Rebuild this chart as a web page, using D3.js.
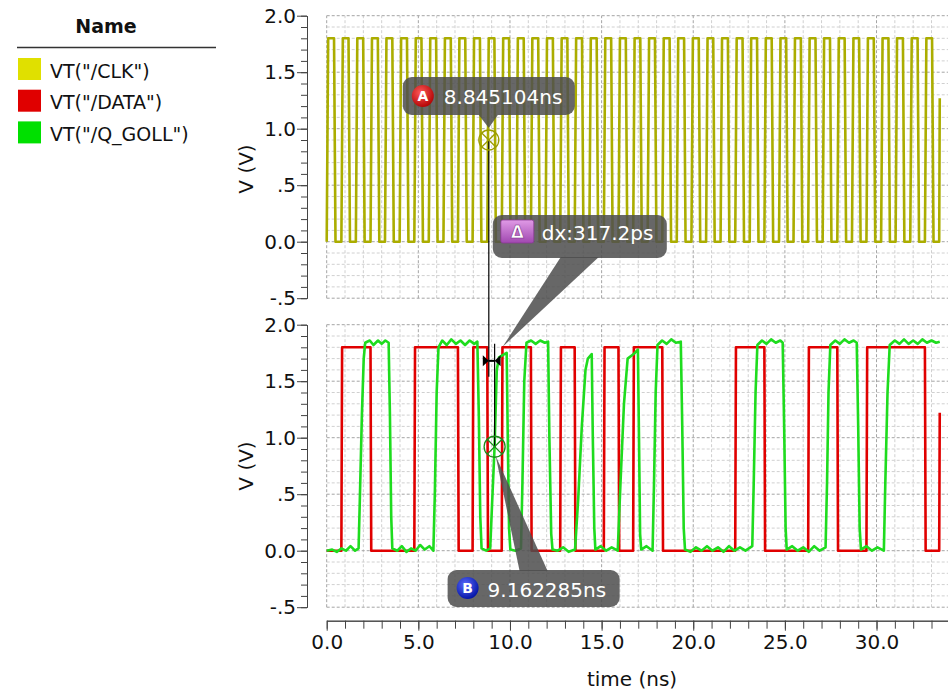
<!DOCTYPE html>
<html>
<head>
<meta charset="utf-8">
<script src="https://cdn.jsdelivr.net/npm/d3@7"></script>
<style>
  html, body { margin: 0; padding: 0; background: #fff; }
  svg { display: block; font-family: "DejaVu Sans", sans-serif; }
  .grid-minor { stroke: #d0d0d0; stroke-dasharray: 3,2; }
  .grid-major { stroke: #a4a4a4; stroke-dasharray: 3,2; }
  .axis path, .axis line { stroke: #444; }
  .axis text { font-size: 20px; fill: #111; font-family: "DejaVu Sans", sans-serif; }
  .wave { fill: none; stroke-width: 2.6; stroke-linejoin: round; }
  .callout { fill: rgba(78,78,78,0.86); }
  .callout-text { fill: #fff; font-size: 20px; }
</style>
</head>
<body>
<svg id="chart" width="948" height="698"></svg>
<script>
/* ---------- data ---------- */
const legendNames = ['VT("/CLK")', 'VT("/DATA")', 'VT("/Q_GOLL")'];
const legendColors = ["#e0e000", "#e00000", "#00e000"];

const timeMajor = [0, 5, 10, 15, 20, 25, 30];
const timeLabels = ["0.0", "5.0", "10.0", "15.0", "20.0", "25.0", "30.0"];
const voltMajor = [-0.5, 0, 0.5, 1.0, 1.5, 2.0];
const voltLabels = ["-.5", "0.0", ".5", "1.0", "1.5", "2.0"];

// CLK: alternating rise / fall times (ns), signal starts low
const clkEdges = [
  0.00, 0.40, 0.80, 1.19, 1.59, 1.99, 2.39, 2.79, 3.18, 3.58,
  3.98, 4.38, 4.78, 5.17, 5.57, 5.97, 6.37, 6.77, 7.16, 7.56,
  7.96, 8.36, 8.76, 9.15, 9.55, 9.95, 10.35, 10.75, 11.14, 11.54,
  11.94, 12.34, 12.74, 13.13, 13.53, 13.93, 14.33, 14.73, 15.12, 15.52,
  15.92, 16.32, 16.72, 17.11, 17.51, 17.91, 18.31, 18.71, 19.10, 19.50,
  19.90, 20.30, 20.70, 21.09, 21.49, 21.89, 22.29, 22.69, 23.08, 23.48,
  23.88, 24.28, 24.68, 25.07, 25.47, 25.87, 26.27, 26.67, 27.06, 27.46,
  27.86, 28.26, 28.66, 29.05, 29.45, 29.85, 30.25, 30.65, 31.04, 31.44,
  31.84, 32.24, 32.64, 33.03
];
const clkTail = [[33.42, 0.0], [33.45, 1.27]];

// DATA: alternating rise / fall times (ns), starts low
const dataEdges = [
  0.80, 2.39, 4.78, 7.16, 7.96, 8.76, 9.55, 11.14, 12.74, 13.53,
  15.12, 15.92, 16.72, 18.31, 22.29, 23.88, 26.27, 27.86, 29.45, 32.64
];
const dataTail = [[33.42, 0.0], [33.45, 1.22]];

// Q_GOLL: sampled points [t (ns), V]
const qPoints = [
  [0.00, 0.00], [0.30, 0.01], [0.55, -0.01], [0.80, 0.02], [1.05, 0.00], [1.30, 0.04], [1.55, 0.00], [1.74, 0.02],
  [1.80, 0.40], [1.92, 1.20], [2.02, 1.70], [2.10, 1.84], [2.35, 1.86], [2.55, 1.82], [2.80, 1.86], [3.00, 1.83], [3.20, 1.86], [3.38, 1.84],
  [3.45, 1.20], [3.52, 0.30], [3.58, 0.02], [3.85, 0.00], [4.10, 0.04], [4.35, -0.01], [4.60, 0.02], [4.85, 0.00], [5.10, 0.05], [5.35, 0.01], [5.60, 0.04], [5.82, 0.00],
  [5.90, 0.50], [6.00, 1.40], [6.10, 1.80], [6.30, 1.86], [6.55, 1.82], [6.80, 1.87], [7.05, 1.83], [7.30, 1.86], [7.55, 1.82], [7.80, 1.86], [8.05, 1.83], [8.22, 1.85],
  [8.30, 1.20], [8.38, 0.30], [8.45, 0.02], [8.70, 0.00], [8.92, 0.02],
  [9.02, 0.40], [9.16, 0.92], [9.28, 1.60], [9.40, 1.71], [9.60, 1.73], [9.82, 1.75],
  [9.88, 1.00], [9.95, 0.20], [10.02, 0.01], [10.30, 0.00], [10.60, 0.02],
  [10.68, 0.60], [10.78, 1.50], [10.90, 1.84], [11.15, 1.86], [11.40, 1.83], [11.65, 1.86], [11.90, 1.84], [12.08, 1.85],
  [12.15, 1.00], [12.25, 0.15], [12.32, 0.01], [12.60, 0.00], [12.90, 0.03], [13.20, -0.01], [13.55, 0.01],
  [13.72, 0.45], [13.92, 1.10], [14.12, 1.60], [14.25, 1.70], [14.46, 1.74],
  [14.52, 1.00], [14.60, 0.20], [14.66, 0.01], [14.95, 0.04], [15.25, 0.00], [15.55, 0.03], [15.88, 0.00],
  [16.03, 0.60], [16.22, 1.30], [16.42, 1.70], [16.75, 1.74], [16.98, 1.78],
  [17.04, 1.00], [17.10, 0.15], [17.16, 0.01], [17.45, 0.04], [17.78, 0.00],
  [17.86, 0.60], [17.95, 1.40], [18.05, 1.82], [18.30, 1.86], [18.55, 1.83], [18.80, 1.87], [19.05, 1.84], [19.32, 1.85],
  [19.40, 1.10], [19.48, 0.20], [19.55, 0.01], [19.85, -0.01], [20.15, 0.03], [20.45, 0.00], [20.75, 0.04], [21.05, 0.00],
  [21.35, 0.03], [21.65, -0.01], [21.95, 0.04], [22.25, 0.00], [22.55, 0.03], [22.85, 0.00], [23.22, 0.04],
  [23.30, 0.60], [23.40, 1.40], [23.50, 1.82], [23.75, 1.86], [24.00, 1.83], [24.25, 1.87], [24.50, 1.84], [24.75, 1.86], [24.88, 1.84],
  [24.96, 1.10], [25.04, 0.20], [25.10, 0.01], [25.40, 0.04], [25.70, 0.00], [26.00, 0.03], [26.30, -0.01], [26.60, 0.04], [26.90, 0.00], [27.22, 0.03],
  [27.30, 0.60], [27.38, 1.40], [27.48, 1.82], [27.75, 1.86], [28.00, 1.83], [28.25, 1.87], [28.50, 1.84], [28.75, 1.86], [28.92, 1.84],
  [29.00, 1.10], [29.08, 0.20], [29.15, 0.01], [29.45, 0.04], [29.75, 0.00], [30.05, 0.03], [30.40, 0.00],
  [30.48, 0.60], [30.60, 1.40], [30.72, 1.82], [31.00, 1.86], [31.25, 1.83], [31.50, 1.87], [31.75, 1.83], [32.00, 1.86],
  [32.25, 1.83], [32.50, 1.87], [32.75, 1.84], [33.00, 1.86], [33.25, 1.84], [33.45, 1.85]
];

const markerA = {t: 8.845104, v: 0.9, label: "8.845104ns"};
const markerB = {t: 9.162285, v: 0.92, label: "9.162285ns"};
const deltaLabel = "dx:317.2ps";
const deltaV = 1.68;

/* ---------- setup ---------- */
const svg = d3.select("#chart");
const HIGH = 1.8;

const x = d3.scaleLinear().domain([0, 33.9]).range([326.7, 948]);
const yTop = d3.scaleLinear().domain([-0.5, 2.0]).range([298.2, 15.7]);
const yBot = d3.scaleLinear().domain([-0.5, 2.0]).range([607.2, 324.7]);
const axisX = 307;

// edges -> step points with a short transition
function stepPoints(edges, tr, tail) {
  const pts = [[0, 0]];
  let level = 0;
  edges.forEach(t => {
    pts.push([t, level]);
    level = level ? 0 : HIGH;
    pts.push([t + tr, level]);
  });
  return pts.concat(tail);
}

/* ---------- legend ---------- */
const legend = svg.append("g");
legend.append("text").attr("x", 106).attr("y", 33).attr("text-anchor", "middle")
  .attr("font-size", 19).attr("font-weight", "bold").attr("fill", "#111").text("Name");
legend.append("line").attr("x1", 17).attr("x2", 216).attr("y1", 47.5).attr("y2", 47.5)
  .attr("stroke", "#333").attr("stroke-width", 1.5);
legendNames.forEach((n, i) => {
  const yy = 58 + i * 31.7;
  legend.append("rect").attr("x", 18).attr("y", yy).attr("width", 23).attr("height", 22)
    .attr("fill", legendColors[i]);
  legend.append("text").attr("x", 50).attr("y", yy + 19.5).attr("font-size", 19)
    .attr("fill", "#111").text(n);
});

/* ---------- panels ---------- */
function drawPanel(y, labelY) {
  const g = svg.append("g");
  const [y0, y1] = y.range();
  // grid
  d3.range(0, 34, 1).forEach(t => {
    g.append("line").attr("class", t % 5 === 0 ? "grid-major" : "grid-minor")
      .attr("x1", x(t)).attr("x2", x(t)).attr("y1", y0).attr("y2", y1);
  });
  d3.range(-5, 21, 1).forEach(k => {
    g.append("line").attr("class", k % 5 === 0 ? "grid-major" : "grid-minor")
      .attr("x1", x(0)).attr("x2", 948).attr("y1", y(k / 10)).attr("y2", y(k / 10));
  });
  // y axis
  g.append("g").attr("class", "axis").attr("transform", `translate(${axisX},0)`)
    .call(d3.axisLeft(y).tickValues(d3.range(-5, 21, 1).map(k => k / 10))
      .tickSize(6).tickSizeOuter(0).tickFormat(""));
  g.append("g").attr("class", "axis").attr("transform", `translate(${axisX},0)`)
    .call(d3.axisLeft(y).tickValues(voltMajor).tickSize(10).tickSizeOuter(0)
      .tickPadding(1).tickFormat((d, i) => voltLabels[i]));
  g.append("text").attr("transform", `translate(253,${labelY}) rotate(-90)`)
    .attr("text-anchor", "middle").attr("font-size", 20).attr("fill", "#111").text("V (V)");
  return g;
}
drawPanel(yTop, 169);
drawPanel(yBot, 466);

// x axis
const xAxisY = 620.7;
svg.append("g").attr("class", "axis").attr("transform", `translate(0,${xAxisY})`)
  .call(d3.axisBottom(x).tickValues(d3.range(0, 34, 1)).tickSize(8).tickSizeOuter(0).tickFormat(""));
svg.append("g").attr("class", "axis").attr("transform", `translate(0,${xAxisY})`)
  .call(d3.axisBottom(x).tickValues(timeMajor).tickSize(10).tickSizeOuter(0)
    .tickPadding(4).tickFormat((d, i) => timeLabels[i]));
svg.append("text").attr("x", 632).attr("y", 686).attr("text-anchor", "middle")
  .attr("font-size", 20).attr("fill", "#111").text("time (ns)");

/* ---------- waveforms ---------- */
const lineTop = d3.line().x(d => x(d[0])).y(d => yTop(d[1]));
const lineBot = d3.line().x(d => x(d[0])).y(d => yBot(d[1]));

svg.append("path").attr("class", "wave").attr("stroke", "#abad00").attr("stroke-width", 3)
  .attr("d", lineTop(stepPoints(clkEdges, 0.08, clkTail)));
svg.append("path").attr("class", "wave").attr("stroke", "#e00000")
  .attr("d", lineBot(stepPoints(dataEdges, 0.04, dataTail)));
svg.append("path").attr("class", "wave").attr("stroke", "#1edc1e").attr("stroke-width", 2.8)
  .attr("d", lineBot(qPoints));

/* ---------- markers ---------- */
const ax = x(markerA.t), ay = yTop(markerA.v);
const bx = x(markerB.t), by = yBot(markerB.v);
const dy = yBot(deltaV);

const mk = svg.append("g");
mk.append("line").attr("x1", ax).attr("x2", ax).attr("y1", ay).attr("y2", dy + 16)
  .attr("stroke", "#000").attr("stroke-width", 1.2);
mk.append("line").attr("x1", bx).attr("x2", bx).attr("y1", dy - 17).attr("y2", by)
  .attr("stroke", "#000").attr("stroke-width", 1.2);
// delta arrows
mk.append("path").attr("fill", "#000")
  .attr("d", `M${ax - 6},${dy - 5.5}L${ax},${dy}L${ax - 6},${dy + 5.5}Z M${bx + 6},${dy - 5.5}L${bx},${dy}L${bx + 6},${dy + 5.5}Z`);
mk.append("line").attr("x1", ax).attr("x2", bx).attr("y1", dy).attr("y2", dy)
  .attr("stroke", "#000").attr("stroke-width", 2);

function crossCircle(cx, cy, r, color) {
  const g = svg.append("g").attr("stroke", color).attr("stroke-width", 1.3).attr("fill", "none");
  g.append("circle").attr("cx", cx).attr("cy", cy).attr("r", r);
  const d = r * Math.SQRT1_2;
  g.append("path").attr("d", `M${cx - d},${cy - d}L${cx + d},${cy + d}M${cx - d},${cy + d}L${cx + d},${cy - d}`);
}
crossCircle(ax, ay, 10, "#9c9c00");
crossCircle(bx, by, 10.5, "#1a8c1a");

/* ---------- callouts ---------- */
const defs = svg.append("defs");
function radial(id, c0, c1) {
  const g = defs.append("radialGradient").attr("id", id).attr("cx", "40%").attr("cy", "35%").attr("r", "70%");
  g.append("stop").attr("offset", "0%").attr("stop-color", c0);
  g.append("stop").attr("offset", "100%").attr("stop-color", c1);
}
radial("gradA", "#ff5a5a", "#b00000");
radial("gradB", "#5a6cff", "#0010a0");
const lg = defs.append("linearGradient").attr("id", "gradD").attr("x1", 0).attr("y1", 0).attr("x2", 0).attr("y2", 1);
lg.append("stop").attr("offset", "0%").attr("stop-color", "#e09ae6");
lg.append("stop").attr("offset", "100%").attr("stop-color", "#a048b0");

const co = svg.append("g");
// A
co.append("rect").attr("class", "callout").attr("x", ax - 86).attr("y", 77).attr("width", 172).attr("height", 38).attr("rx", 9);
co.append("path").attr("class", "callout").attr("d", `M${ax - 10},115L${ax + 9},115L${ax},${ay - 12}Z`);
co.append("circle").attr("cx", ax - 66).attr("cy", 96).attr("r", 11).attr("fill", "url(#gradA)");
co.append("text").attr("x", ax - 66).attr("y", 101).attr("text-anchor", "middle").attr("font-size", 14)
  .attr("font-weight", "bold").attr("fill", "#fff").text("A");
co.append("text").attr("class", "callout-text").attr("x", ax - 45).attr("y", 104).text(markerA.label);

// delta
co.append("rect").attr("class", "callout").attr("x", ax + 4).attr("y", 215).attr("width", 174).attr("height", 43).attr("rx", 9);
co.append("path").attr("class", "callout").attr("d", `M${ax + 72},257L${ax + 110},257L${bx + 8},${dy - 14}Z`);
co.append("rect").attr("x", ax + 12).attr("y", 220).attr("width", 33).attr("height", 23).attr("rx", 2)
  .attr("fill", "url(#gradD)").attr("stroke", "#8a3a96").attr("stroke-width", 0.8);
co.append("text").attr("x", ax + 28.5).attr("y", 238).attr("text-anchor", "middle").attr("font-size", 17)
  .attr("font-weight", "bold").attr("fill", "#fff").attr("stroke", "#7a2a86").attr("stroke-width", 0.6).text("Δ");
co.append("text").attr("class", "callout-text").attr("x", ax + 53).attr("y", 240).text(deltaLabel);

// B
co.append("rect").attr("class", "callout").attr("x", bx - 47).attr("y", 570).attr("width", 172).attr("height", 37).attr("rx", 9);
co.append("path").attr("class", "callout").attr("d", `M${bx + 25},571L${bx + 53},571L${bx + 1},${by + 9}Z`);
co.append("circle").attr("cx", bx - 27).attr("cy", 588).attr("r", 11).attr("fill", "url(#gradB)");
co.append("text").attr("x", bx - 27).attr("y", 593).attr("text-anchor", "middle").attr("font-size", 14)
  .attr("font-weight", "bold").attr("fill", "#fff").text("B");
co.append("text").attr("class", "callout-text").attr("x", bx - 7).attr("y", 597).text(markerB.label);
</script>
</body>
</html>
